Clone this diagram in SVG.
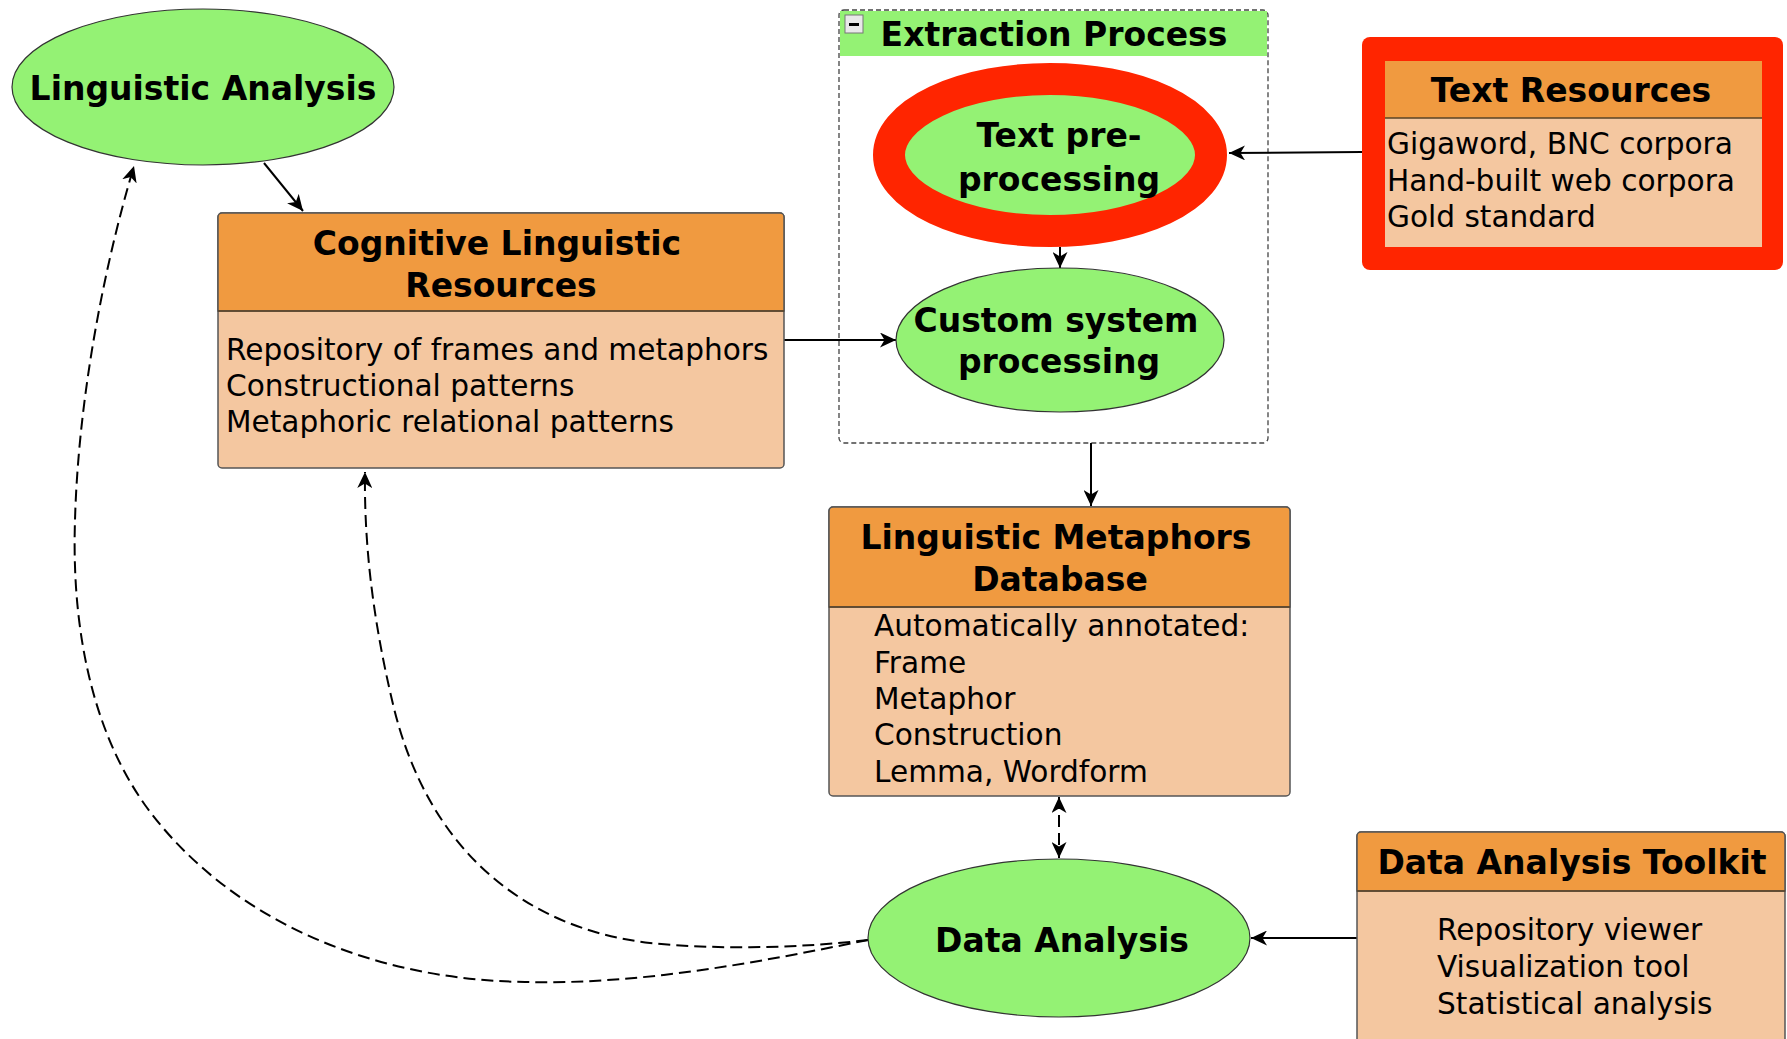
<svg xmlns="http://www.w3.org/2000/svg" width="1787" height="1039" viewBox="0 0 1787 1039">
  <style>
    .ell { fill: #94f274; stroke: #333; stroke-width: 1.2; }
    .hdr { fill: #f09a40; stroke: #555; stroke-width: 1.5; }
    .body { fill: #f4c7a0; stroke: #555; stroke-width: 1.5; }
    .div { stroke: #5a4326; stroke-width: 1.5; }
    .title { font-family: "DejaVu Sans", "Liberation Sans", sans-serif; font-weight: bold; font-size: 33px; fill: #000; text-anchor: middle; }
    .txt { font-family: "DejaVu Sans", "Liberation Sans", sans-serif; font-size: 29.6px; fill: #000; }
    .edge { fill: none; stroke: #000; stroke-width: 2; }
    .dash { fill: none; stroke: #000; stroke-width: 2; stroke-dasharray: 12 6; }
  </style>
  <defs>
    <marker id="arrow" markerUnits="userSpaceOnUse" markerWidth="17" markerHeight="15" refX="16" refY="7.5" orient="auto-start-reverse">
      <path d="M0,0 L16,7.5 L0,15 L4.5,7.5 z" fill="#000"/>
    </marker>
  </defs>

  <rect width="1787" height="1039" fill="#fff"/>

  <!-- Extraction Process group frame -->
  <g id="extraction-process">
    <rect x="839" y="10" width="429" height="433" rx="5" fill="none" stroke="#444" stroke-width="1.3" stroke-dasharray="5 3"/>
    <rect x="840" y="11" width="427" height="45" fill="#94f274"/>
    <rect x="845" y="15" width="18" height="18" fill="#e8e8e8" stroke="#777" stroke-width="1"/>
    <rect x="849" y="23" width="10" height="3" fill="#000"/>
    <text class="title" x="1054" y="46">Extraction Process</text>
  </g>

  <!-- Connectors -->
  <g id="connectors">
    <line class="edge" x1="264" y1="163" x2="303" y2="211" marker-end="url(#arrow)"/>
    <line class="edge" x1="784" y1="340" x2="896" y2="340" marker-end="url(#arrow)"/>
    <line class="edge" x1="1362" y1="152" x2="1229" y2="153" marker-end="url(#arrow)"/>
    <line class="edge" x1="1060" y1="247" x2="1060" y2="268" marker-end="url(#arrow)"/>
    <line class="edge" x1="1091" y1="443" x2="1091" y2="506" marker-end="url(#arrow)"/>
    <line class="dash" x1="1059" y1="797" x2="1059" y2="858" marker-start="url(#arrow)" marker-end="url(#arrow)"/>
    <line class="edge" x1="1357" y1="938" x2="1251" y2="938" marker-end="url(#arrow)"/>
    <path class="dash" d="M868,940 C800,948 720,950 650,943 C520,928 425,845 392,700 C372,615 364,540 365,472" marker-end="url(#arrow)"/>
    <path class="dash" d="M868,940 C760,962 640,985 525,982 C375,980 230,922 145,805 C85,720 72,610 75,520 C78,410 100,280 134,166" marker-end="url(#arrow)"/>
  </g>

  <g id="linguistic-analysis">
    <ellipse class="ell" cx="203" cy="87" rx="191" ry="78"/>
    <text class="title" x="203" y="100">Linguistic Analysis</text>
  </g>

  <g id="cognitive-linguistic-resources">
    <rect class="body" x="218" y="213" width="566" height="255" rx="4"/>
    <path class="hdr" d="M218,311 V217 a4,4 0 0 1 4,-4 H780 a4,4 0 0 1 4,4 V311 z"/>
    <line class="div" x1="218" y1="311" x2="784" y2="311"/>
    <text class="title" x="497" y="255">Cognitive Linguistic</text>
    <text class="title" x="501" y="297">Resources</text>
    <text class="txt" x="226" y="360">Repository of frames and metaphors</text>
    <text class="txt" x="226" y="396">Constructional patterns</text>
    <text class="txt" x="226" y="432">Metaphoric relational patterns</text>
  </g>

  <g id="text-pre-processing">
    <ellipse cx="1050" cy="155" rx="161" ry="76" fill="#94f274" stroke="#ff2500" stroke-width="32"/>
    <text class="title" x="1059" y="147">Text pre-</text>
    <text class="title" x="1059" y="191">processing</text>
  </g>

  <g id="custom-system-processing">
    <ellipse class="ell" cx="1060" cy="340" rx="164" ry="72"/>
    <text class="title" x="1056" y="332">Custom system</text>
    <text class="title" x="1059" y="373">processing</text>
  </g>

  <g id="text-resources">
    <rect x="1362" y="37" width="421" height="233" rx="8" fill="#ff2500"/>
    <rect x="1385" y="61" width="377" height="186" fill="#f4c7a0"/>
    <rect x="1385" y="61" width="377" height="57" fill="#f09a40"/>
    <line class="div" x1="1385" y1="118" x2="1762" y2="118"/>
    <text class="title" x="1571" y="102">Text Resources</text>
    <text class="txt" x="1387" y="154">Gigaword, BNC corpora</text>
    <text class="txt" x="1387" y="191">Hand-built web corpora</text>
    <text class="txt" x="1387" y="227">Gold standard</text>
  </g>

  <g id="linguistic-metaphors-database">
    <rect class="body" x="829" y="507" width="461" height="289" rx="4"/>
    <path class="hdr" d="M829,607 V511 a4,4 0 0 1 4,-4 H1286 a4,4 0 0 1 4,4 V607 z"/>
    <line class="div" x1="829" y1="607" x2="1290" y2="607"/>
    <text class="title" x="1056" y="549">Linguistic Metaphors</text>
    <text class="title" x="1060" y="591">Database</text>
    <text class="txt" x="874" y="636">Automatically annotated:</text>
    <text class="txt" x="874" y="673">Frame</text>
    <text class="txt" x="874" y="709">Metaphor</text>
    <text class="txt" x="874" y="745">Construction</text>
    <text class="txt" x="874" y="782">Lemma, Wordform</text>
  </g>

  <g id="data-analysis">
    <ellipse class="ell" cx="1059" cy="938" rx="191" ry="79"/>
    <text class="title" x="1062" y="952">Data Analysis</text>
  </g>

  <g id="data-analysis-toolkit">
    <rect class="body" x="1357" y="832" width="428" height="230" rx="4"/>
    <path class="hdr" d="M1357,891 V836 a4,4 0 0 1 4,-4 H1781 a4,4 0 0 1 4,4 V891 z"/>
    <line class="div" x1="1357" y1="891" x2="1785" y2="891"/>
    <text class="title" x="1572" y="874">Data Analysis Toolkit</text>
    <text class="txt" x="1437" y="940">Repository viewer</text>
    <text class="txt" x="1437" y="977">Visualization tool</text>
    <text class="txt" x="1437" y="1014">Statistical analysis</text>
  </g>
</svg>
